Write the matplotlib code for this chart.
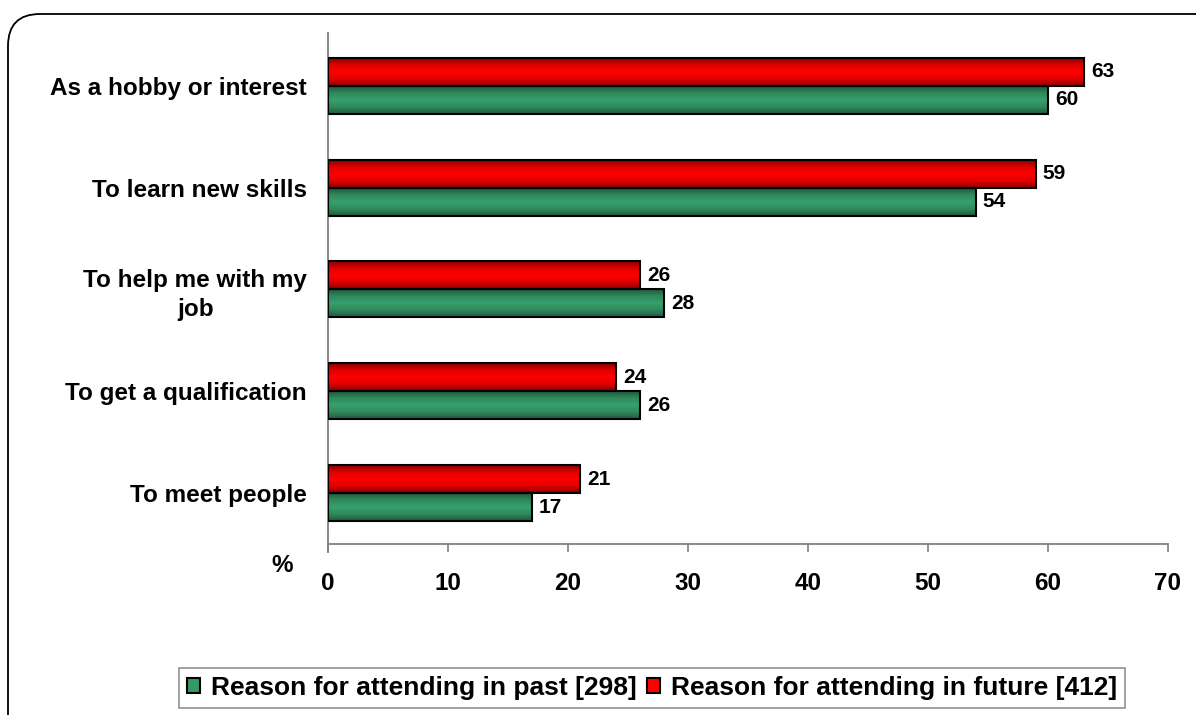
import numpy as np
import matplotlib
matplotlib.use("Agg")
import matplotlib.pyplot as plt
from matplotlib.patches import FancyBboxPatch, Patch
from matplotlib.colors import LinearSegmentedColormap

plt.rcParams['font.family'] = ['Liberation Sans', 'DejaVu Sans']

categories = ["As a hobby or interest", "To learn new skills", "To help me with my\njob",
              "To get a qualification", "To meet people"]
past = [60, 54, 28, 26, 17]
future = [63, 59, 26, 24, 21]
past_label = "Reason for attending in past [298]"
future_label = "Reason for attending in future [412]"
x_ticks = [0, 10, 20, 30, 40, 50, 60, 70]

green_cmap = LinearSegmentedColormap.from_list("g", ["#1e5a3e", "#2f8a5c", "#36a06c", "#2f8a5c", "#1e5a3e"])
red_cmap = LinearSegmentedColormap.from_list("r", ["#8a0000", "#e00000", "#ff0000", "#e00000", "#8a0000"])

fig = plt.figure(figsize=(11.96, 7.15), dpi=100)

# rounded outer frame
frame = FancyBboxPatch((0.08, -1.0), 13.0, 8.01, boxstyle="round,pad=0,rounding_size=0.32",
                       transform=fig.dpi_scale_trans, facecolor="none", edgecolor="black",
                       linewidth=1.3, zorder=-1)
fig.patches.append(frame)

ax = fig.add_axes([0.2742, 0.2392, 0.7023, 0.7119])
ax.set_facecolor("none")

n = len(categories)
ypos = np.arange(n)[::-1]
h = 0.275

def gradient_bars(values, offset, cmap):
    bars = ax.barh(ypos + offset, values, height=h, color="none", edgecolor="black",
                   linewidth=1.5, zorder=3)
    grad = np.linspace(0, 1, 64).reshape(-1, 1)
    for b in bars:
        x0, y0 = b.get_x(), b.get_y()
        w, hh = b.get_width(), b.get_height()
        im = ax.imshow(grad, cmap=cmap, aspect="auto", extent=(x0, x0 + w, y0, y0 + hh),
                       origin="lower", zorder=2, interpolation="bilinear")
        im.set_clip_path(b)
    return bars

gradient_bars(future, h / 2, red_cmap)
gradient_bars(past, -h / 2, green_cmap)

for y, v in zip(ypos, future):
    ax.annotate(str(v), (v, y + h / 2), xytext=(5, 0), textcoords="offset points",
                va="center", ha="left", fontsize=15, fontweight="bold")
for y, v in zip(ypos, past):
    ax.annotate(str(v), (v, y - h / 2), xytext=(5, 0), textcoords="offset points",
                va="center", ha="left", fontsize=15, fontweight="bold")

ax.set_xlim(0, 70)
ax.set_ylim(-0.5, n - 0.5)
ax.set_xticks(x_ticks)
ax.set_xticklabels([str(t) for t in x_ticks], fontsize=17.5, fontweight="bold")
ax.set_yticks(ypos)
ax.set_yticklabels(categories, fontsize=17.5, fontweight="bold", multialignment="center",
                   linespacing=1.35)
ax.tick_params(axis="y", length=0, pad=15)
ax.tick_params(axis="x", direction="out", length=6, width=1.2, color="#808080", pad=14)

for s in ["top", "right"]:
    ax.spines[s].set_visible(False)
for s in ["left", "bottom"]:
    ax.spines[s].set_color("#808080")
    ax.spines[s].set_linewidth(1.3)
ax.spines["left"].set_bounds(-0.58, n - 0.5 + 0.02)

fig.text(282 / 1196, 1 - 565 / 715, "%", fontsize=17.5, fontweight="bold", ha="center", va="center")

handles = [Patch(facecolor="#339966", edgecolor="black", linewidth=1.5, label=past_label),
           Patch(facecolor="#ff0000", edgecolor="black", linewidth=1.5, label=future_label)]
leg = fig.legend(handles=handles, loc="center", bbox_to_anchor=(652 / 1196, 1 - 688 / 715),
                 ncol=2, frameon=True, fancybox=False, edgecolor="#808080",
                 prop={"size": 19, "weight": "bold"}, handlelength=0.5, handleheight=0.5,
                 handletextpad=0.4, columnspacing=0.4, borderpad=0.3)
leg.get_frame().set_linewidth(1.3)

fig.savefig("out.png", dpi=100)
